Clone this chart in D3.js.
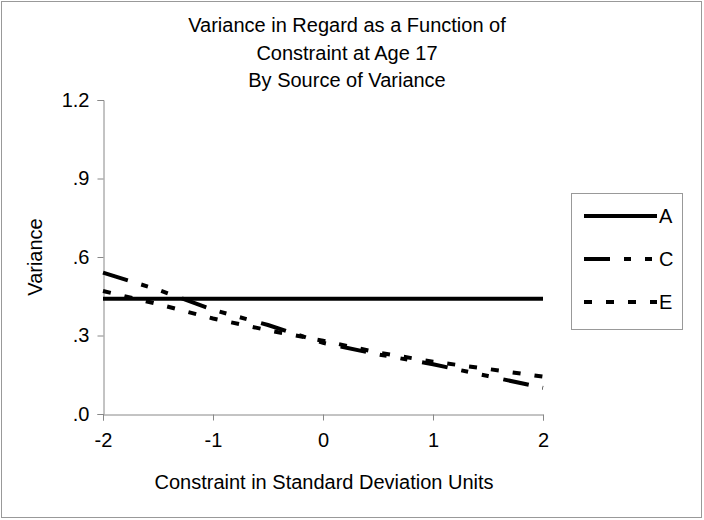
<!DOCTYPE html>
<html><head><meta charset="utf-8">
<script src="https://cdn.jsdelivr.net/npm/d3@7"></script>
<style>body{margin:0;background:#fff}svg{display:block}text{font-family:"Liberation Sans",Arial,sans-serif;fill:#000}</style>
</head><body>
<svg id="c" width="704" height="520"></svg>
<script>
const titleLines = ["Variance in Regard as a Function of","Constraint at Age 17","By Source of Variance"];
const xValues = [-2,-1.5,-1,-0.5,0,0.5,1,1.5,2];
const seriesA = [0.44,0.44,0.44,0.44,0.44,0.44,0.44,0.44,0.44];
const seriesC = [0.54,0.475,0.398,0.34,0.272,0.228,0.19,0.145,0.10];
const seriesE = [0.47,0.42,0.365,0.32,0.28,0.235,0.20,0.172,0.143];
const seriesNames = ["A","C","E"];
const yTicks = [0,0.3,0.6,0.9,1.2];
const yTickLabels = [".0",".3",".6",".9","1.2"];
const xTicks = [-2,-1,0,1,2];

const series = [
  {name:seriesNames[0], values:seriesA, dash:null},
  {name:seriesNames[1], values:seriesC, dash:"26,14,7,14,7,15"},
  {name:seriesNames[2], values:seriesE, dash:"8,14"}
];

const FS = 20;
const svg = d3.select("#c");
svg.append("rect").attr("x",1.5).attr("y",1.5).attr("width",700).attr("height",516)
  .attr("fill","#fff").attr("stroke","#999").attr("stroke-width",1);

const x = d3.scaleLinear().domain([-2,2]).range([103,543]);
const y = d3.scaleLinear().domain([0,1.2]).range([414,100]);

titleLines.forEach((t,i)=>{
  svg.append("text").attr("x",347).attr("y",32+i*27.5).attr("text-anchor","middle")
    .attr("font-size",FS).text(t);
});

const gy = svg.append("g").attr("transform","translate(103.5,0)")
  .call(d3.axisLeft(y).tickValues(yTicks).tickFormat((d,i)=>yTickLabels[i]).tickSize(6).tickPadding(8));
const gx = svg.append("g").attr("transform","translate(0,414.5)")
  .call(d3.axisBottom(x).tickValues(xTicks).tickFormat(d3.format("d")).tickSize(6).tickPadding(12));
[gx,gy].forEach(g=>{
  g.select(".domain").attr("stroke","#888");
  g.selectAll(".tick line").attr("stroke","#888");
  g.selectAll(".tick text").attr("font-size",FS).attr("fill","#000").attr("font-family","Liberation Sans, Arial, sans-serif");
});
gx.selectAll(".tick text").text(d=>d<0?"-"+Math.abs(d):String(d));

svg.append("text").attr("transform","translate(42,257) rotate(-90)").attr("text-anchor","middle")
  .attr("font-size",FS).text("Variance");
svg.append("text").attr("x",324).attr("y",489).attr("text-anchor","middle")
  .attr("font-size",FS).text("Constraint in Standard Deviation Units");

const line = d3.line().x((d,i)=>x(xValues[i])).y(d=>y(d));
series.forEach(s=>{
  svg.append("path").datum(s.values).attr("d",line).attr("fill","none")
    .attr("stroke","#000").attr("stroke-width",4)
    .attr("stroke-dasharray",s.dash);
});

// legend
const lg = svg.append("g");
lg.append("rect").attr("x",571.5).attr("y",193.5).attr("width",111).attr("height",136)
  .attr("fill","#fff").attr("stroke","#999");
series.forEach((s,i)=>{
  const yy = 216 + i*43;
  lg.append("line").attr("x1",584).attr("x2",657).attr("y1",yy).attr("y2",yy)
    .attr("stroke","#000").attr("stroke-width",4).attr("stroke-dasharray",s.dash);
  lg.append("text").attr("x",659).attr("y",yy+7).attr("font-size",FS).text(s.name);
});
</script>
</body></html>
